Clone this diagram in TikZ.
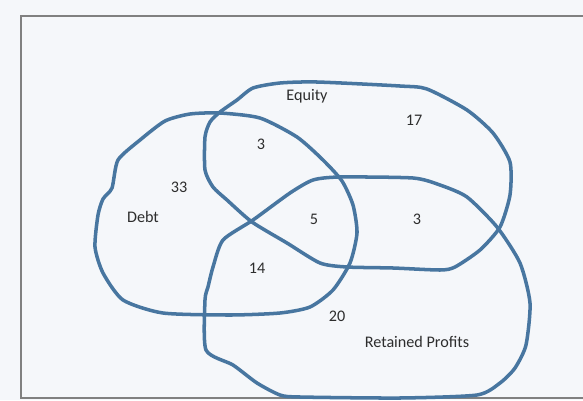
\documentclass[tikz,border=0pt]{standalone}
\usepackage{fontspec}
\setmainfont{Carlito}
\usepackage{xcolor}
\usepackage{tikz}
\usetikzlibrary{positioning}

\definecolor{pen}{RGB}{72,118,160}
\definecolor{ink}{RGB}{45,45,45}
\definecolor{paper}{RGB}{245,247,250}

\begin{document}
\begin{tikzpicture}[x=0.02cm, y=-0.02cm,
    venn/.style={pen, line width=2pt, line join=round},
    lbl/.style={text=ink, inner sep=1pt, font=\fontsize{9.2}{11}\selectfont}]
\useasboundingbox (0,0) rectangle (583,400);
\fill[paper] (0,0) rectangle (583,400);
\draw[gray, line width=0.6pt] (583,16) -- (21,16) -- (21,398) -- (583,398);

% Debt
\draw[venn] plot[smooth cycle, tension=0.4] coordinates {
  (98,215) (103,199) (112,188) (118,160) (140,140) (165,121) (190,114)
  (220,113) (260,118) (297,137) (323,160) (342,181) (353,205) (357,233)
  (350,263) (333,290) (310,307) (280,313) (230,315) (163,313) (123,300)
  (103,273) (95,247)};

% Equity
\draw[venn] plot[smooth cycle, tension=0.4] coordinates {
  (220,112) (237,100) (253,88) (280,83) (317,82) (400,86) (427,89)
  (467,110) (493,133) (510,162) (510,195) (500,227) (480,250) (455,267)
  (440,270) (393,268) (347,267) (320,263) (287,243) (252,222) (227,200)
  (213,187) (205,170) (205,137) (210,122)};

% Retained profits
\draw[venn] plot[smooth cycle, tension=0.4] coordinates {
  (313,180) (340,177) (413,178) (440,185) (467,197) (497,227) (520,263)
  (530,303) (526,345) (515,368) (500,383) (477,395) (400,398) (300,397)
  (280,395) (257,383) (233,365) (206,350) (205,300) (208,287) (213,267)
  (223,240) (253,220) (290,193)};

% Labels
\node[lbl] (equity) at (307,96) {Equity};
\node[lbl] (debt) at (143,217) {Debt};
\node[lbl] (profits) at (417,342) {Retained Profits};

% Counts
\foreach \name/\x/\y/\val in {ne/414/120/17, de/261/144/3, dd/179/187/33,
    all/314/219/5, ep/417/219/3, dp/257/268/14, pp/337/316/20} {
  \node[lbl] (n\name) at (\x,\y) {\val};
}
\end{tikzpicture}
\end{document}
